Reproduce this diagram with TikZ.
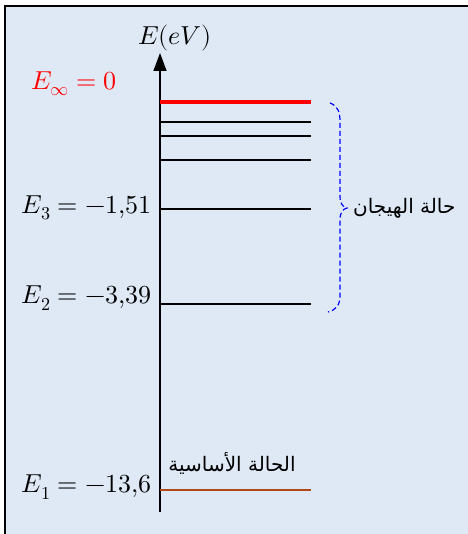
\documentclass[tikz,border=0pt]{standalone}
\usepackage{fontspec}
\usepackage{unicode-math}
\setmathfont{Latin Modern Math}
\usetikzlibrary{arrows.meta}
\TeXXeTstate=1
\newfontfamily\arabicfont[Script=Arabic]{DejaVu Sans}
\definecolor{panelblue}{RGB}{222,233,245}
\definecolor{groundbrown}{RGB}{176,72,24}

\begin{document}
\begin{tikzpicture}[x=1pt,y=-1pt,
  level/.style={line width=1.6pt},
  elabel/.style={anchor=east,font=\fontsize{26}{31}\selectfont,inner sep=0pt},
  arlabel/.style={font=\arabicfont\fontsize{20}{24}\selectfont,inner sep=0pt}]
  \useasboundingbox (0,0) rectangle (467,534);
  % panel, clipped on right and bottom
  \fill[white] (-2,-2) rectangle (470,537);
  \fill[panelblue] (5,6) rectangle (470,537);
  \draw[line width=1.5pt] (5,537) -- (5,6) -- (470,6);
  % axis
  \coordinate (base) at (160,512);
  \coordinate (top) at (160,53);
  \draw[line width=1.5pt,-{Triangle[length=18pt,width=13pt]}] (base) -- (top);
  \node[font=\fontsize{26}{31}\selectfont] (axis) at (175,38) {$E(eV)$};
  % levels
  \foreach \nm/\y in {inf/102,a/122,b/136,c/160,three/209,two/304,one/490}{
    \coordinate (l\nm) at (160,\y);
    \coordinate (r\nm) at (311,\y);}
  \draw[red,line width=3.5pt] (linf) -- (rinf);
  \foreach \nm in {a,b,c,three,two}
    \draw[level] (l\nm) -- (r\nm);
  \draw[level,groundbrown] (lone) -- (rone);
  % energy values
  \node[elabel,red] (einf) at (117,84) {$E_\infty = 0$};
  \node[elabel] (ethree) at (152,208) {$E_3 = -1{,}51$};
  \node[elabel] (etwo) at (152,298) {$E_2 = -3{,}39$};
  \node[elabel] (eone) at (152,487) {$E_1 = -13{,}6$};
  % state names
  \node[arlabel] (ground) at (232,463) {\beginR الحالة الأساسية\endR};
  \node[arlabel,anchor=west] (excited) at (353,208) {\beginR حالة الهيجان\endR};
  % brace
  \coordinate (tip) at (347,208);
  \draw[blue,line width=1.2pt,dash pattern=on 5pt off 3pt]
    (330,103) .. controls (338,106) and (340,112) .. (340,122) -- (340,196)
    .. controls (340,204) and (343,207) .. (tip)
    .. controls (343,209) and (340,212) .. (340,220) -- (340,296)
    .. controls (340,305) and (336,310) .. (328,312);
\end{tikzpicture}
\end{document}
